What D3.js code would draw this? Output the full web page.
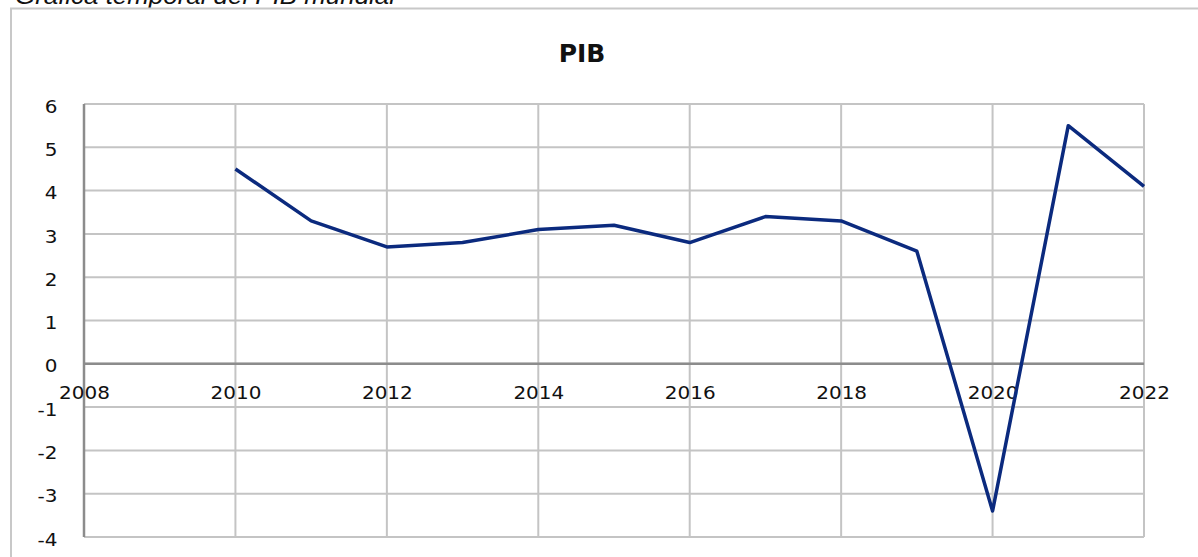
<!DOCTYPE html>
<html>
<head>
<meta charset="utf-8">
<script src="https://cdn.jsdelivr.net/npm/d3@7"></script>
<style>
  body { margin: 0; background: #fff; }
  svg { display: block; }
  .tick text { font-family: "DejaVu Sans", Verdana, sans-serif; font-size: 18px; fill: #111; }
</style>
</head>
<body>
<div id="chart"></div>
<script>
(function(d3) {
'use strict';

var years = [2010, 2011, 2012, 2013, 2014, 2015, 2016, 2017, 2018, 2019, 2020, 2021, 2022];
var pib = [4.5, 3.3, 2.7, 2.8, 3.1, 3.2, 2.8, 3.4, 3.3, 2.6, -3.4, 5.5, 4.1];
var xTicks = [2008, 2010, 2012, 2014, 2016, 2018, 2020, 2022];
var yTicks = [-4, -3, -2, -1, 0, 1, 2, 3, 4, 5, 6];

var width = 1198;
var height = 557;
var margin = {left: 84, right: 54, top: 104, bottom: 20};

var svg = d3.select('#chart')
  .append('svg')
  .attr('width', width)
  .attr('height', height);

// caption above the chart, cut off at the top like the original
svg.append('text')
  .attr('x', 15)
  .attr('y', 4)
  .attr('textLength', 380)
  .attr('lengthAdjust', 'spacingAndGlyphs')
  .style('font-family', '"Liberation Sans", Arial, sans-serif')
  .style('font-style', 'italic')
  .style('font-size', '23px')
  .style('fill', '#111')
  .text('Gráfica temporal del PIB mundial');

// chart area border
svg.append('rect')
  .attr('x', 11)
  .attr('y', 8.5)
  .attr('width', width + 20)
  .attr('height', height + 20)
  .attr('fill', 'none')
  .attr('stroke', '#c8c8c8')
  .attr('stroke-width', 2);

var x = d3.scaleLinear()
  .domain([2008, 2022])
  .range([margin.left, width - margin.right]);

var y = d3.scaleLinear()
  .domain([-4, 6])
  .range([height - margin.bottom, margin.top]);

// gridlines
svg.append('g')
  .selectAll('line')
  .data(yTicks)
  .enter()
  .append('line')
  .attr('x1', x(2008))
  .attr('x2', x(2022))
  .attr('y1', function(d) { return y(d); })
  .attr('y2', function(d) { return y(d); })
  .attr('stroke', '#c4c4c4')
  .attr('stroke-width', 2);

svg.append('g')
  .selectAll('line')
  .data(xTicks.slice(1))
  .enter()
  .append('line')
  .attr('x1', function(d) { return x(d); })
  .attr('x2', function(d) { return x(d); })
  .attr('y1', y(6))
  .attr('y2', y(-4))
  .attr('stroke', '#c4c4c4')
  .attr('stroke-width', 2);

// axis lines
svg.append('line')
  .attr('x1', x(2008)).attr('x2', x(2008))
  .attr('y1', y(6)).attr('y2', y(-4))
  .attr('stroke', '#8c8c8c')
  .attr('stroke-width', 2.5);

svg.append('line')
  .attr('x1', x(2008)).attr('x2', x(2022))
  .attr('y1', y(0)).attr('y2', y(0))
  .attr('stroke', '#8c8c8c')
  .attr('stroke-width', 2.5);

// tick labels
var xAxis = svg.append('g')
  .attr('transform', 'translate(0,' + y(0) + ')')
  .call(d3.axisBottom(x).tickValues(xTicks).tickSize(0).tickFormat(d3.format('d')));
xAxis.select('.domain').remove();
xAxis.selectAll('.tick text')
  .attr('y', 35)
  .attr('dy', 0)
  .attr('transform', 'scale(1.11,1)');

var yAxis = svg.append('g')
  .attr('transform', 'translate(' + margin.left + ',0)')
  .call(d3.axisLeft(y).tickValues(yTicks).tickSize(0).tickFormat(function(d) { return String(d); }));
yAxis.select('.domain').remove();
yAxis.selectAll('.tick text')
  .attr('x', -24)
  .attr('dy', '0.45em')
  .attr('transform', 'scale(1.11,1)');

// title
svg.append('text')
  .attr('x', 582)
  .attr('y', 62)
  .attr('text-anchor', 'middle')
  .style('font-family', '"DejaVu Sans", Verdana, sans-serif')
  .style('font-weight', 'bold')
  .style('font-size', '25px')
  .style('fill', '#111')
  .text('PIB');

// series line
var line = d3.line()
  .x(function(d, i) { return x(years[i]); })
  .y(function(d) { return y(d); });

svg.append('path')
  .datum(pib)
  .attr('d', line)
  .attr('fill', 'none')
  .attr('stroke', '#0b2a7e')
  .attr('stroke-width', 3.5)
  .attr('stroke-linejoin', 'round');

})(window.d3);
</script>
</body>
</html>
